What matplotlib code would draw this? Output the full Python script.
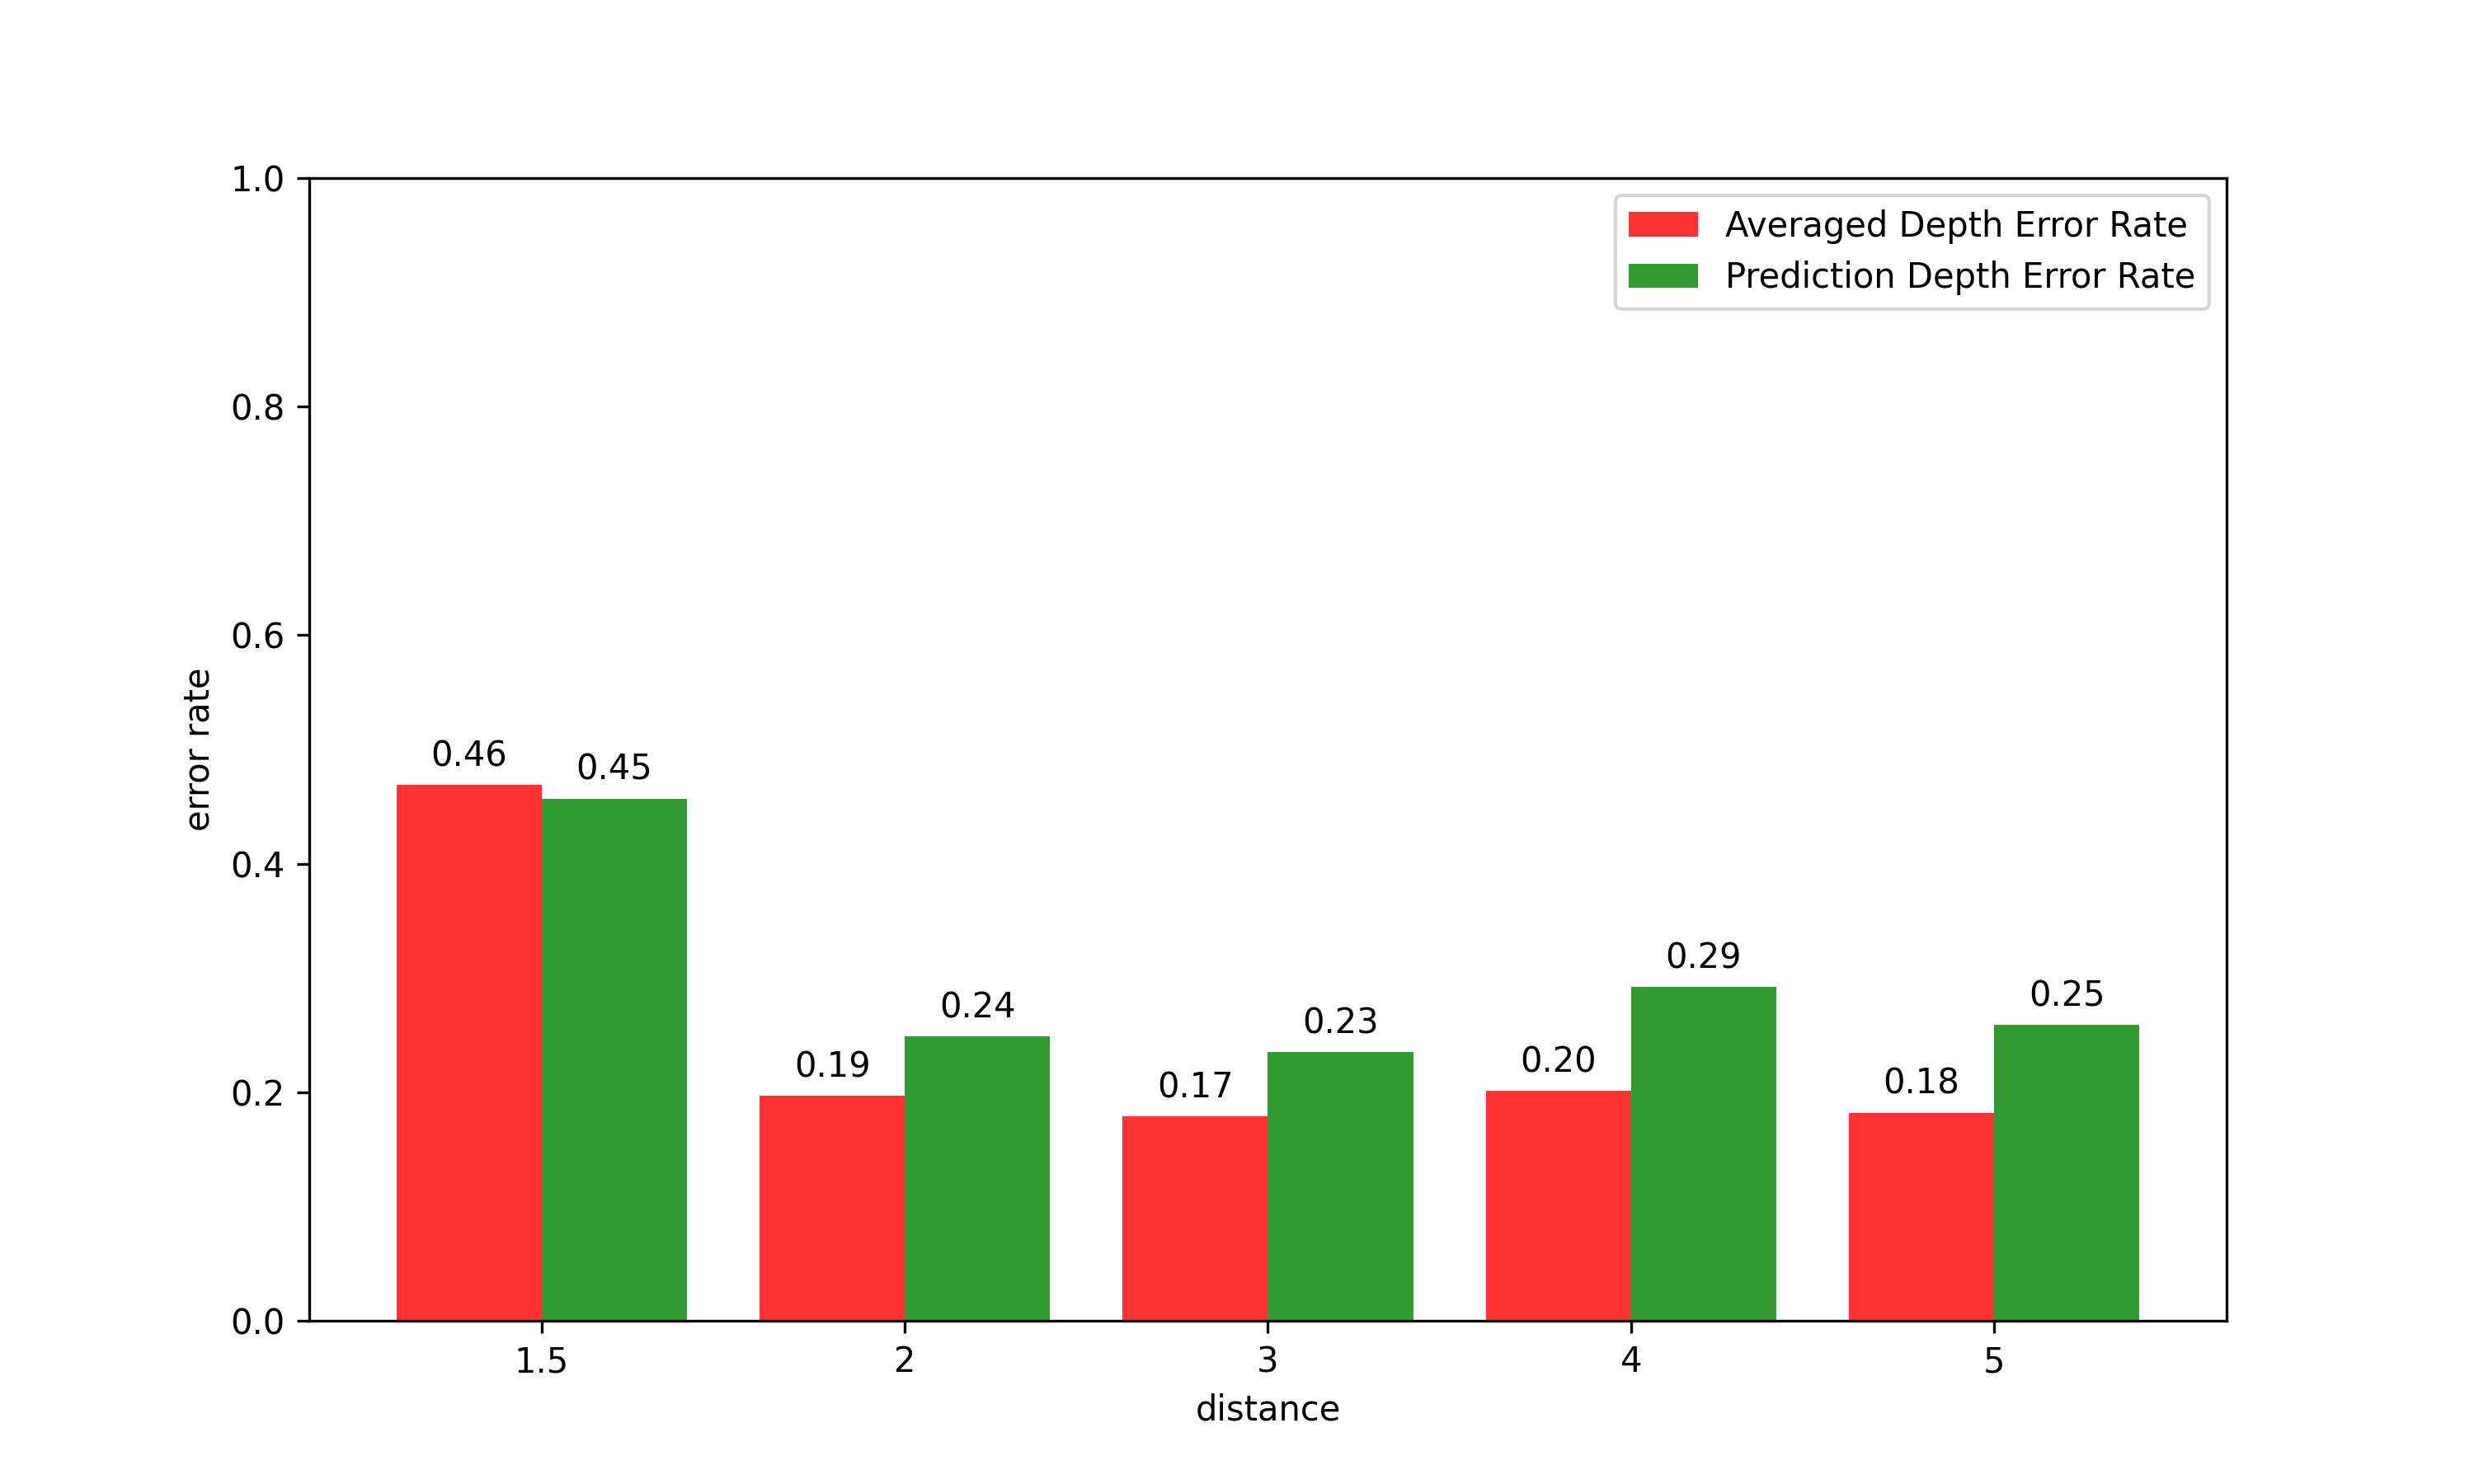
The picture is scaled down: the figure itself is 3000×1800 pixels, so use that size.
import matplotlib
matplotlib.use("Agg")
import matplotlib.pyplot as plt
import numpy as np


#------------------------------------------------------------------------------
# Data
distances = ['1.5', '2', '3', '4', '5']
averaged_error = [0.469, 0.197, 0.179, 0.201, 0.182]
prediction_error = [0.457, 0.249, 0.235, 0.292, 0.259]


#------------------------------------------------------------------------------
# Plot
x = np.arange(len(distances))
width = 0.4

fig = plt.figure(figsize=(10, 6), dpi=300)

bars1 = plt.bar(x - width / 2, averaged_error, width, color='red', alpha=0.8,
                label='Averaged Depth Error Rate')
bars2 = plt.bar(x + width / 2, prediction_error, width, color='green', alpha=0.8,
                label='Prediction Depth Error Rate')

# value labels (two decimals, truncated)
for bars in (bars1, bars2):
    for b in bars:
        h = b.get_height()
        plt.text(b.get_x() + b.get_width() / 2, h + 0.01,
                 '%.2f' % (np.floor(h * 100) / 100),
                 ha='center', va='bottom')

plt.xticks(x, distances)
plt.ylim(0, 1.0)
plt.xlabel('distance')
plt.ylabel('error rate')
plt.legend(loc='upper right')

plt.savefig('out.png', dpi=300)
